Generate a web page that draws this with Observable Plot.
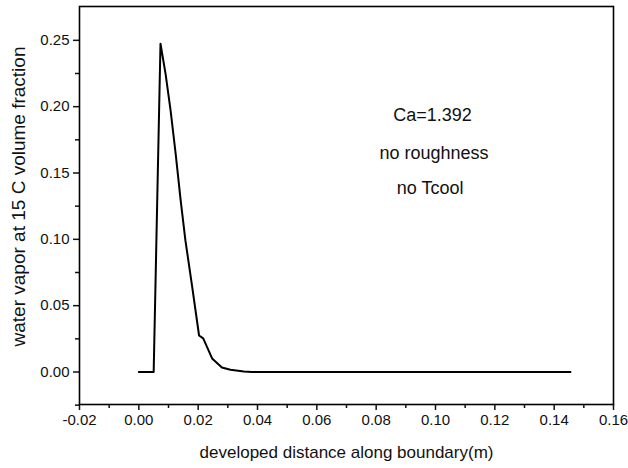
<!DOCTYPE html>
<html>
<head>
<meta charset="utf-8">
<script src="https://cdn.jsdelivr.net/npm/d3@7"></script>
<script src="https://cdn.jsdelivr.net/npm/@observablehq/plot@0.6"></script>
<style>
  html, body { margin: 0; padding: 0; background: white; }
</style>
</head>
<body>
<div id="chart"></div>
<script>
// Curve data: developed distance (m) vs water vapor volume fraction
const distance = [0, 0.0050, 0.0073, 0.0090, 0.0107, 0.0124, 0.0141, 0.0157, 0.0180, 0.0203, 0.0217, 0.0247, 0.0280, 0.0309, 0.0354, 0.0380, 0.1455];
const vapor    = [0, 0,      0.2475, 0.2249, 0.1972, 0.1648, 0.1293, 0.0992, 0.0640, 0.0275, 0.0253, 0.0102, 0.0034, 0.0017, 0.0004, 0,      0];

const xTicks = [-0.02, 0.00, 0.02, 0.04, 0.06, 0.08, 0.10, 0.12, 0.14, 0.16];
const xMinorTicks = [-0.01, 0.01, 0.03, 0.05, 0.07, 0.09, 0.11, 0.13, 0.15];
const yTicks = [0.00, 0.05, 0.10, 0.15, 0.20, 0.25];
const yMinorTicks = [-0.025, 0.025, 0.075, 0.125, 0.175, 0.225];

const xLabel = "developed distance along boundary(m)";
const yLabel = "water vapor at 15 C volume fraction";
const notes = ["Ca=1.392", "no roughness", "no Tcool"];
const noteX = [0.0990, 0.0995, 0.0982];
const noteY = [0.1934, 0.1648, 0.1384];

const data = distance.map((d, i) => ({x: d, y: vapor[i]}));
const noteData = notes.map((t, i) => ({t, x: noteX[i], y: noteY[i]}));
const fmt = d => (Math.abs(d) < 1e-12 ? 0 : d).toFixed(2);

const chart = Plot.plot({
  width: 628,
  height: 468,
  marginLeft: 79,
  marginRight: 15,
  marginTop: 6,
  marginBottom: 64,
  x: {domain: [-0.02, 0.16]},
  y: {domain: [-0.0245, 0.2755]},
  style: {fontFamily: "'Liberation Sans', Arial, sans-serif", fontSize: "15px", color: "#111", background: "white"},
  marks: [
    Plot.axisX({ticks: xTicks, tickSize: 6, tickPadding: 4, tickFormat: fmt, label: null, strokeWidth: 1.5, fontSize: 15}),
    Plot.axisX({ticks: xMinorTicks, tickSize: 4, tickFormat: () => "", label: null, strokeWidth: 1.5}),
    Plot.axisY({ticks: yTicks, tickSize: 6, tickPadding: 4, tickFormat: fmt, label: null, strokeWidth: 1.5, fontSize: 15}),
    Plot.axisY({ticks: yMinorTicks, tickSize: 4, tickFormat: () => "", label: null, strokeWidth: 1.5}),
    Plot.frame({stroke: "black", strokeWidth: 1.6}),
    Plot.line(data, {x: "x", y: "y", stroke: "black", strokeWidth: 2, curve: "linear"}),
    Plot.text(noteData, {x: "x", y: "y", text: "t", fontSize: 18, fill: "#111"}),
    Plot.text([xLabel], {frameAnchor: "bottom", dy: 53, fontSize: 17, fill: "#111"}),
    Plot.text([yLabel], {frameAnchor: "left", textAnchor: "middle", dx: -61, dy: -9, rotate: -90, fontSize: 19, fill: "#111"})
  ]
});
document.getElementById("chart").appendChild(chart);
</script>
</body>
</html>
